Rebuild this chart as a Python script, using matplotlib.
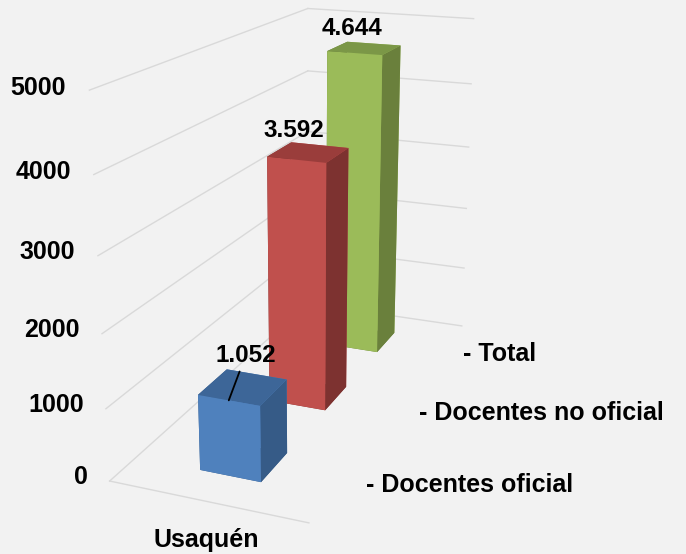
import numpy as np
import matplotlib.pyplot as plt
from mpl_toolkits.mplot3d import proj3d

plt.rcParams['font.family'] = ['Liberation Sans', 'DejaVu Sans']

# data
category = 'Usaquén'
series = ['- Docentes oficial', '- Docentes no oficial', '- Total']
values = [1052, 3592, 4644]
value_labels = ['1.052', '3.592', '4.644']
zticks = [0, 1000, 2000, 3000, 4000, 5000]

front_colors = ['#4F81BD', '#C0504D', '#9BBB59']
top_colors = ['#3D6698', '#9A3D3B', '#7B9747']
side_colors = ['#365B87', '#7D3230', '#6A803C']
bg = '#F2F2F2'
grid_color = '#D9D9D9'

fig = plt.figure(figsize=(6.86, 5.54), dpi=100, facecolor=bg)
ax = fig.add_axes([-0.0098, 0.0185, 0.8942, 1.1074], projection='3d',
                  computed_zorder=False)
ax.set_facecolor(bg)
ax.set_axis_off()

# x = category, y = series (depth), z = value
ax.set_xlim(0, 1)
ax.set_ylim(0, 3)
ax.set_zlim(0, 5000)
ax.set_box_aspect((1, 2.46, 1.85), zoom=1.0)
ax.set_proj_type('persp', focal_length=0.40)
ax.view_init(elev=18, azim=-68)
M = ax.get_proj()


def to2d(x, y, z):
    x2, y2, _ = proj3d.proj_transform(x, y, z, M)
    return x2, y2


# walls: gridlines on left wall and back wall
for v in zticks:
    ax.plot([0, 0], [0, 3], [v, v], color=grid_color, lw=1, zorder=1)
    ax.plot([0, 1], [3, 3], [v, v], color=grid_color, lw=1, zorder=1)
ax.plot([0, 1], [0, 0], [0, 0], color=grid_color, lw=1, zorder=1)

# bars, back to front
bw, bd = 0.315, 0.38
for i in [2, 1, 0]:
    cols = [side_colors[i], top_colors[i], front_colors[i], front_colors[i],
            side_colors[i], side_colors[i]]
    ax.bar3d(0.5 - bw / 2, i + 0.5 - bd / 2, 0, bw, bd, values[i], color=cols,
             shade=False, zorder=10 - i)

txt = dict(fontsize=18, fontweight='bold', zorder=20)
for v in zticks:
    ax.text2D(*to2d(-0.115, 0, v), str(v), transform=ax.transData,
              ha='right', va='center', **txt)

for i, s in enumerate(series):
    ax.text2D(*to2d(1.12, i + 0.5, 0), s, transform=ax.transData,
              ha='left', va='center', **txt)

ax.annotate(category, xy=to2d(0.5, 0, 0), xycoords='data', xytext=(0, -33),
            textcoords='offset points', ha='center', va='baseline', **txt)

# value labels above the front top edge of each bar
offs = [(12, 32), (-1.5, 21), (-2, 18)]
for i, lab in enumerate(value_labels):
    arrow = dict(arrowstyle='-', color='black', lw=1.3, shrinkA=1, shrinkB=0) if i == 0 else None
    ax.annotate(lab, xy=to2d(0.5, i + 0.5 - bd / 2, values[i]), xycoords='data',
                xytext=offs[i], textcoords='offset points', ha='center',
                va='center', fontsize=17.5, fontweight='bold', zorder=20,
                arrowprops=arrow)

fig.savefig('out.png', dpi=100, facecolor=bg)
